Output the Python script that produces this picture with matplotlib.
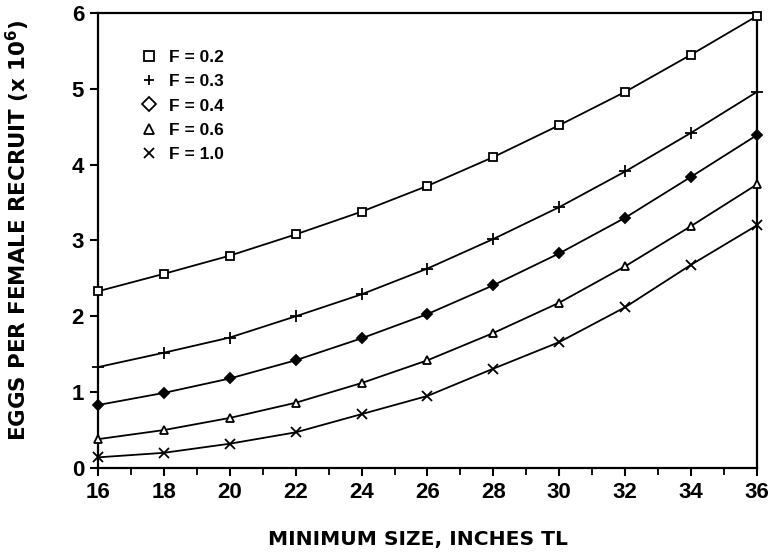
import matplotlib
matplotlib.use("Agg")
import matplotlib.pyplot as plt
from matplotlib.lines import Line2D
from matplotlib.ticker import MultipleLocator

plt.rcParams['font.family'] = ['Liberation Sans', 'DejaVu Sans']

# minimum size (inches TL)
sizes = [16, 18, 20, 22, 24, 26, 28, 30, 32, 34, 36]

# eggs per female recruit (x 10^6)
f02 = [2.33, 2.56, 2.80, 3.08, 3.38, 3.72, 4.10, 4.52, 4.96, 5.45, 5.96]
f03 = [1.33, 1.52, 1.72, 2.00, 2.29, 2.63, 3.02, 3.44, 3.91, 4.42, 4.96]
f04 = [0.83, 0.99, 1.18, 1.42, 1.71, 2.03, 2.41, 2.83, 3.30, 3.84, 4.39]
f06 = [0.38, 0.50, 0.66, 0.86, 1.12, 1.42, 1.78, 2.18, 2.66, 3.19, 3.74]
f10 = [0.14, 0.20, 0.32, 0.47, 0.71, 0.95, 1.31, 1.66, 2.12, 2.68, 3.20]

labels = ["F = 0.2", "F = 0.3", "F = 0.4", "F = 0.6", "F = 1.0"]
series = [f02, f03, f04, f06, f10]
# marker, size, filled on the curve
styles = [("s", 6, False), ("+", 8, False), ("D", 5, True), ("^", 6, False), ("x", 7, False)]

fig = plt.figure(figsize=(7.74, 5.55), dpi=100)
ax = fig.add_axes([0.1266, 0.1568, 0.978 - 0.1266, 0.9766 - 0.1568])

for vals, (m, ms, filled) in zip(series, styles):
    ax.plot(sizes, vals, color="black", lw=1.3, marker=m, markersize=ms,
            markerfacecolor="black" if filled else "white",
            markeredgecolor="black", markeredgewidth=1.3, clip_on=False, zorder=3)

ax.set_xlim(16, 36)
ax.set_ylim(0, 6)
ax.xaxis.set_major_locator(MultipleLocator(2))
ax.xaxis.set_minor_locator(MultipleLocator(1))
ax.yaxis.set_major_locator(MultipleLocator(1))

for s in ax.spines.values():
    s.set_linewidth(1.6)
    s.set_color("black")

ax.tick_params(axis="both", which="major", direction="out", length=6, width=1.5,
               labelsize=16, pad=4)
ax.tick_params(axis="x", which="minor", direction="out", length=5, width=1.3)
for t in ax.get_xticklabels() + ax.get_yticklabels():
    t.set_fontweight("bold")

# axis titles placed where they sit in the original
fig.text(418 / 774, 1 - 539 / 555, "MINIMUM SIZE, INCHES TL", ha="center", va="center",
         family="DejaVu Sans", weight="bold", fontsize=14.6)
fig.text(18 / 774, 1 - 230 / 555, "EGGS PER FEMALE RECRUIT (x 10$^{\\mathbf{6}}$)",
         ha="center", va="center", rotation=90,
         family="DejaVu Sans", weight="bold", fontsize=15.4)

# legend, drawn as marker + text rows with no frame
handles = []
for (m, ms, filled) in styles:
    handles.append(Line2D([], [], ls="none", marker=m, markersize=7,
                          markerfacecolor="white", markeredgecolor="black",
                          markeredgewidth=1.3))
leg = ax.legend(handles, labels, loc="upper left", bbox_to_anchor=(0.04, 0.953),
                frameon=False, handletextpad=0.7, labelspacing=0.52,
                handlelength=1.0, prop={"weight": "bold", "size": 12.5})

fig.savefig("out.png", dpi=100)
